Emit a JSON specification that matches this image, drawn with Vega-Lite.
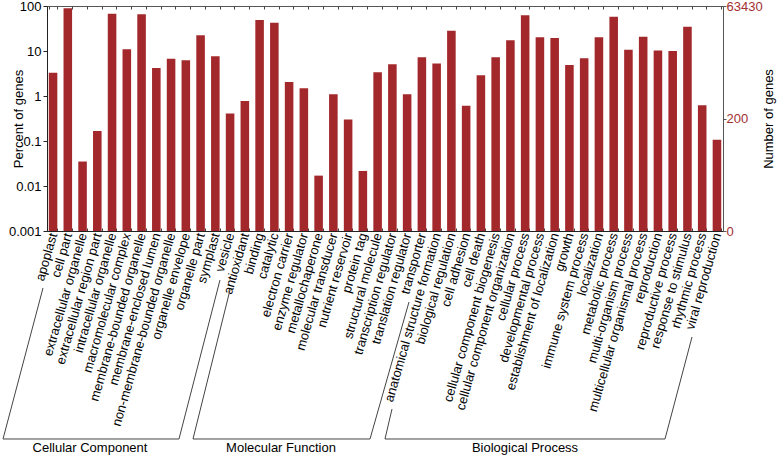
{
  "$schema": "https://vega.github.io/schema/vega-lite/v6.json",
  "width": 676,
  "height": 225,
  "autosize": {"type": "none"},
  "padding": {"left": 47, "top": 6, "right": 55, "bottom": 226},
  "config": {
    "font": "Liberation Sans",
    "view": {"stroke": "#555", "strokeWidth": 1},
    "axis": {"grid": false, "labelFont": "Liberation Sans", "titleFont": "Liberation Sans", "labelColor": "#000", "titleColor": "#000", "titleFontWeight": "normal", "labelFontSize": 13, "titleFontSize": 13}
  },
  "datasets": {
    "go": [
      {"category": "Cellular Component", "term": "apoplast", "percent": 3.3},
      {"category": "Cellular Component", "term": "cell part", "percent": 88.7},
      {"category": "Cellular Component", "term": "extracellular organelle", "percent": 0.035},
      {"category": "Cellular Component", "term": "extracellular region part", "percent": 0.167},
      {"category": "Cellular Component", "term": "intracellular organelle", "percent": 67.6},
      {"category": "Cellular Component", "term": "macromolecular complex", "percent": 10.9},
      {"category": "Cellular Component", "term": "membrane-bounded organelle", "percent": 65.3},
      {"category": "Cellular Component", "term": "membrane-enclosed lumen", "percent": 4.19},
      {"category": "Cellular Component", "term": "non-membrane-bounded organelle", "percent": 6.76},
      {"category": "Cellular Component", "term": "organelle envelope", "percent": 6.2},
      {"category": "Cellular Component", "term": "organelle part", "percent": 22.3},
      {"category": "Cellular Component", "term": "symplast", "percent": 7.6},
      {"category": "Cellular Component", "term": "vesicle", "percent": 0.41},
      {"category": "Molecular Function", "term": "antioxidant", "percent": 0.77},
      {"category": "Molecular Function", "term": "binding", "percent": 48.9},
      {"category": "Molecular Function", "term": "catalytic", "percent": 42.6},
      {"category": "Molecular Function", "term": "electron carrier", "percent": 2.05},
      {"category": "Molecular Function", "term": "enzyme regulator", "percent": 1.48},
      {"category": "Molecular Function", "term": "metallochaperone", "percent": 0.017},
      {"category": "Molecular Function", "term": "molecular transducer", "percent": 1.09},
      {"category": "Molecular Function", "term": "nutrient reservoir", "percent": 0.3},
      {"category": "Molecular Function", "term": "protein tag", "percent": 0.0216},
      {"category": "Molecular Function", "term": "structural molecule", "percent": 3.36},
      {"category": "Molecular Function", "term": "transcription regulator", "percent": 5.06},
      {"category": "Molecular Function", "term": "translation regulator", "percent": 1.09},
      {"category": "Molecular Function", "term": "transporter", "percent": 7.23},
      {"category": "Biological Process", "term": "anatomical structure formation", "percent": 5.3},
      {"category": "Biological Process", "term": "biological regulation", "percent": 28.3},
      {"category": "Biological Process", "term": "cell adhesion", "percent": 0.61},
      {"category": "Biological Process", "term": "cell death", "percent": 2.88},
      {"category": "Biological Process", "term": "cellular component biogenesis", "percent": 7.23},
      {"category": "Biological Process", "term": "cellular component organization", "percent": 17.3},
      {"category": "Biological Process", "term": "cellular process", "percent": 62.1},
      {"category": "Biological Process", "term": "developmental process", "percent": 20.1},
      {"category": "Biological Process", "term": "establishment of localization", "percent": 19.5},
      {"category": "Biological Process", "term": "growth", "percent": 4.89},
      {"category": "Biological Process", "term": "immune system process", "percent": 6.87},
      {"category": "Biological Process", "term": "localization", "percent": 20.1},
      {"category": "Biological Process", "term": "metabolic process", "percent": 58},
      {"category": "Biological Process", "term": "multi-organism process", "percent": 10.7},
      {"category": "Biological Process", "term": "multicellular organismal process", "percent": 20.8},
      {"category": "Biological Process", "term": "reproduction", "percent": 10.2},
      {"category": "Biological Process", "term": "reproductive process", "percent": 10},
      {"category": "Biological Process", "term": "response to stimulus", "percent": 34.7},
      {"category": "Biological Process", "term": "rhythmic process", "percent": 0.62},
      {"category": "Biological Process", "term": "viral reproduction", "percent": 0.107}
    ]
  },
  "layer": [
    {
      "data": {"name": "go"},
      "layer": [
        {
          "mark": {"type": "bar", "color": "#a3282b", "clip": true},
          "encoding": {
            "x": {
              "field": "term", "type": "nominal", "sort": null,
              "scale": {"type": "band", "paddingInner": 0.42, "paddingOuter": 0.12},
              "axis": {"orient": "bottom", "title": null, "labelAngle": -74, "labelLimit": 300, "labelOverlap": false, "tickBand": "extent", "tickSize": -3, "labelPadding": 5, "domainColor": "#222", "tickColor": "#444"}
            },
            "y": {
              "field": "percent", "type": "quantitative",
              "scale": {"type": "log", "domain": [0.001, 100]},
              "axis": {"orient": "left", "title": "Percent of genes", "values": [0.001, 0.01, 0.1, 1, 10, 100], "format": "~g", "labelFlush": false, "tickSize": 4, "labelPadding": 2, "domainColor": "#222", "tickColor": "#222", "titleX": -22, "titleBaseline": "bottom"}
            },
            "y2": {"datum": 0.001}
          }
        },
        {
          "mark": {"type": "point", "opacity": 0},
          "encoding": {
            "x": {
              "field": "term", "type": "nominal", "sort": null,
              "axis": {"orient": "top", "title": null, "labels": false, "domain": false, "tickBand": "extent", "tickSize": -3, "tickColor": "#444"}
            },
            "y": {
              "datum": 200, "type": "quantitative",
              "scale": {"type": "log", "domain": [0.6343, 63430]},
              "axis": {"orient": "right", "title": "Number of genes", "values": [0.6343, 200, 63430], "labelExpr": "datum.value < 1 ? '0' : format(datum.value, 'd')", "labelColor": "#a2302f", "labelFlush": false, "tickSize": 3, "labelPadding": 0, "domainColor": "#555", "tickColor": "#555", "titleAngle": -90, "titleBaseline": "top", "titleX": 39}
            }
          }
        }
      ],
      "resolve": {"scale": {"y": "independent"}, "axis": {"x": "independent", "y": "independent"}}
    },
    {
      "data": {"values": [{}]},
      "layer": [
        {"mark": {"type": "rule", "color": "#444"}, "encoding": {
          "x": {"datum": 0.319, "type": "quantitative", "scale": {"domain": [0.59, 46.411], "nice": false, "zero": false}, "axis": null},
          "y": {"datum": -0.2533, "type": "quantitative", "scale": {"domain": [0, 1], "nice": false, "zero": false}, "axis": null},
          "x2": {"datum": -2.392}, "y2": {"datum": -0.9244}}},
        {"mark": {"type": "rule", "color": "#444"}, "encoding": {
          "x": {"datum": -2.392, "type": "quantitative", "scale": {"domain": [0.59, 46.411], "nice": false, "zero": false}, "axis": null},
          "y": {"datum": -0.9244, "type": "quantitative", "scale": {"domain": [0, 1], "nice": false, "zero": false}, "axis": null},
          "x2": {"datum": 9.537}, "y2": {"datum": -0.9244}}},
        {"mark": {"type": "rule", "color": "#444"}, "encoding": {
          "x": {"datum": 9.537, "type": "quantitative", "scale": {"domain": [0.59, 46.411], "nice": false, "zero": false}, "axis": null},
          "y": {"datum": -0.9244, "type": "quantitative", "scale": {"domain": [0, 1], "nice": false, "zero": false}, "axis": null},
          "x2": {"datum": 12.316}, "y2": {"datum": -0.2178}}},
        {"mark": {"type": "rule", "color": "#444"}, "encoding": {
          "x": {"datum": 12.994, "type": "quantitative", "scale": {"domain": [0.59, 46.411], "nice": false, "zero": false}, "axis": null},
          "y": {"datum": -0.2622, "type": "quantitative", "scale": {"domain": [0, 1], "nice": false, "zero": false}, "axis": null},
          "x2": {"datum": 10.486}, "y2": {"datum": -0.9244}}},
        {"mark": {"type": "rule", "color": "#444"}, "encoding": {
          "x": {"datum": 10.486, "type": "quantitative", "scale": {"domain": [0.59, 46.411], "nice": false, "zero": false}, "axis": null},
          "y": {"datum": -0.9244, "type": "quantitative", "scale": {"domain": [0, 1], "nice": false, "zero": false}, "axis": null},
          "x2": {"datum": 22.484}, "y2": {"datum": -0.9244}}},
        {"mark": {"type": "rule", "color": "#444"}, "encoding": {
          "x": {"datum": 22.484, "type": "quantitative", "scale": {"domain": [0.59, 46.411], "nice": false, "zero": false}, "axis": null},
          "y": {"datum": -0.9244, "type": "quantitative", "scale": {"domain": [0, 1], "nice": false, "zero": false}, "axis": null},
          "x2": {"datum": 25.127}, "y2": {"datum": -0.3156}}},
        {"mark": {"type": "rule", "color": "#444"}, "encoding": {
          "x": {"datum": 23.975, "type": "quantitative", "scale": {"domain": [0.59, 46.411], "nice": false, "zero": false}, "axis": null},
          "y": {"datum": -0.7911, "type": "quantitative", "scale": {"domain": [0, 1], "nice": false, "zero": false}, "axis": null},
          "x2": {"datum": 23.5}, "y2": {"datum": -0.9244}}},
        {"mark": {"type": "rule", "color": "#444"}, "encoding": {
          "x": {"datum": 23.5, "type": "quantitative", "scale": {"domain": [0.59, 46.411], "nice": false, "zero": false}, "axis": null},
          "y": {"datum": -0.9244, "type": "quantitative", "scale": {"domain": [0, 1], "nice": false, "zero": false}, "axis": null},
          "x2": {"datum": 42.48}, "y2": {"datum": -0.9244}}},
        {"mark": {"type": "rule", "color": "#444"}, "encoding": {
          "x": {"datum": 42.48, "type": "quantitative", "scale": {"domain": [0.59, 46.411], "nice": false, "zero": false}, "axis": null},
          "y": {"datum": -0.9244, "type": "quantitative", "scale": {"domain": [0, 1], "nice": false, "zero": false}, "axis": null},
          "x2": {"datum": 44.31}, "y2": {"datum": -0.4711}}},
        {"mark": {"type": "text", "fontSize": 13, "font": "Liberation Sans", "baseline": "middle", "color": "#000"}, "encoding": {
          "x": {"datum": 3.505, "type": "quantitative", "scale": {"domain": [0.59, 46.411], "nice": false, "zero": false}, "axis": null},
          "y": {"datum": -0.9644, "type": "quantitative", "scale": {"domain": [0, 1], "nice": false, "zero": false}, "axis": null},
          "text": {"value": "Cellular Component"}}},
        {"mark": {"type": "text", "fontSize": 13, "font": "Liberation Sans", "baseline": "middle", "color": "#000"}, "encoding": {
          "x": {"datum": 16.451, "type": "quantitative", "scale": {"domain": [0.59, 46.411], "nice": false, "zero": false}, "axis": null},
          "y": {"datum": -0.9644, "type": "quantitative", "scale": {"domain": [0, 1], "nice": false, "zero": false}, "axis": null},
          "text": {"value": "Molecular Function"}}},
        {"mark": {"type": "text", "fontSize": 13, "font": "Liberation Sans", "baseline": "middle", "color": "#000"}, "encoding": {
          "x": {"datum": 32.99, "type": "quantitative", "scale": {"domain": [0.59, 46.411], "nice": false, "zero": false}, "axis": null},
          "y": {"datum": -0.9644, "type": "quantitative", "scale": {"domain": [0, 1], "nice": false, "zero": false}, "axis": null},
          "text": {"value": "Biological Process"}}}
      ]
    }
  ],
  "resolve": {"scale": {"x": "independent", "y": "independent"}}
}
